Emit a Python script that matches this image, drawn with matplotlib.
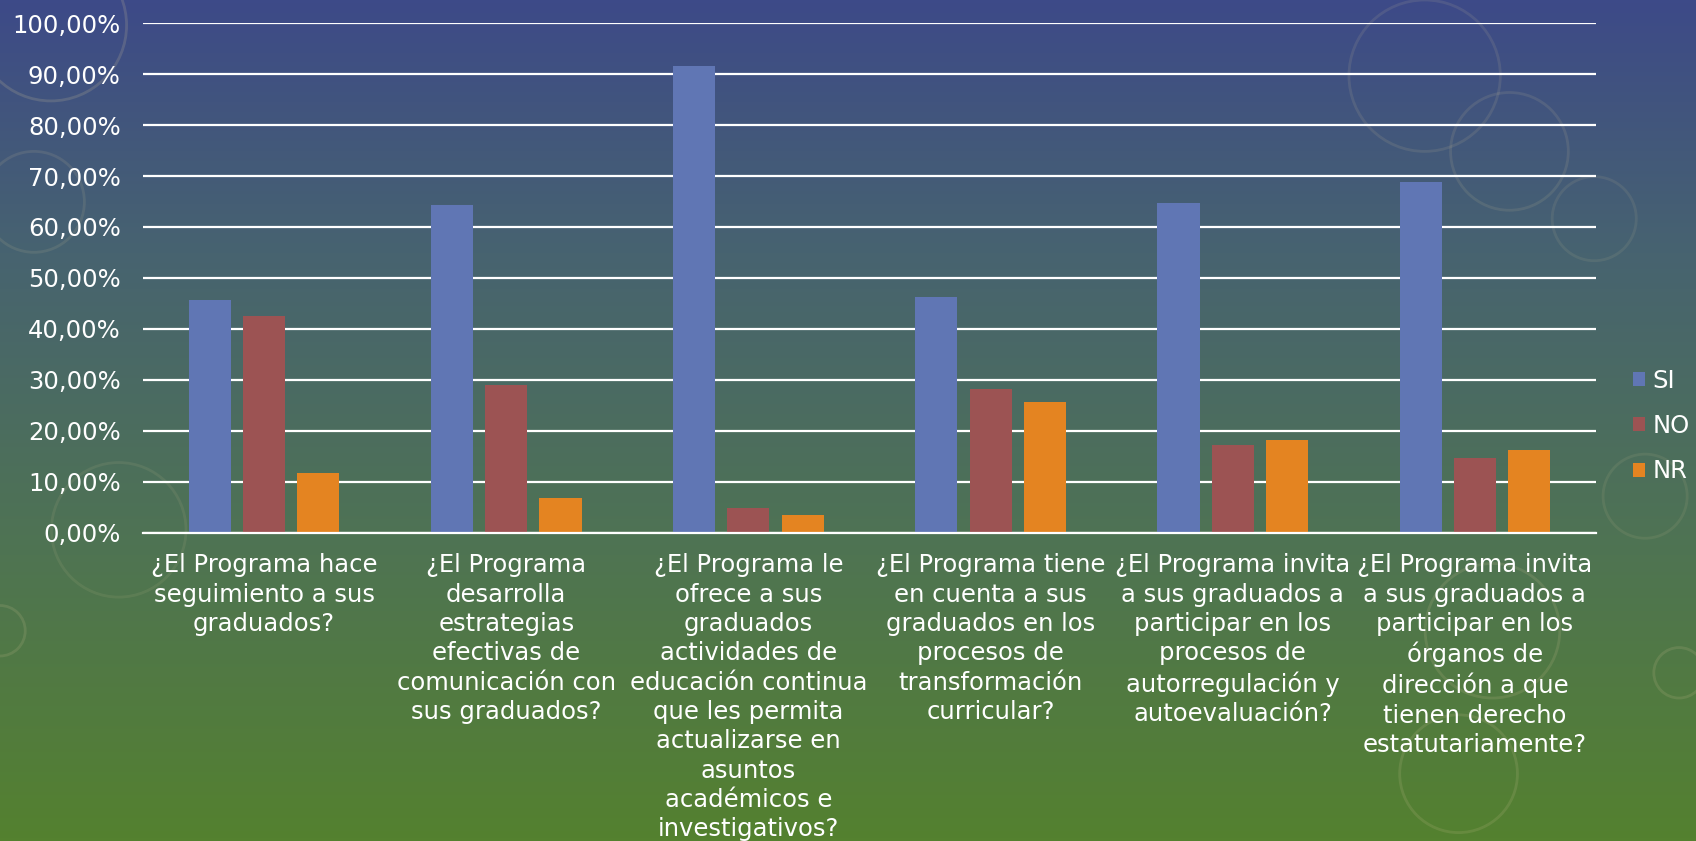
import numpy as np
import matplotlib.pyplot as plt
from matplotlib.colors import LinearSegmentedColormap
from matplotlib.patches import Ellipse
from matplotlib.ticker import FuncFormatter

# Data (percent)
categories = [
    "¿El Programa hace\nseguimiento a sus\ngraduados?",
    "¿El Programa\ndesarrolla\nestrategias\nefectivas de\ncomunicación con\nsus graduados?",
    "¿El Programa le\nofrece a sus\ngraduados\nactividades de\neducación continua\nque les permita\nactualizarse en\nasuntos\nacadémicos e\ninvestigativos?",
    "¿El Programa tiene\nen cuenta a sus\ngraduados en los\nprocesos de\ntransformación\ncurricular?",
    "¿El Programa invita\na sus graduados a\nparticipar en los\nprocesos de\nautorregulación y\nautoevaluación?",
    "¿El Programa invita\na sus graduados a\nparticipar en los\nórganos de\ndirección a que\ntienen derecho\nestatutariamente?",
]
si = [45.7, 64.3, 91.6, 46.2, 64.7, 68.9]
no = [42.5, 28.9, 4.9, 28.1, 17.2, 14.7]
nr = [11.7, 6.7, 3.4, 25.6, 18.1, 16.3]

series = [("SI", si, "#6076b4"), ("NO", no, "#9c5353"), ("NR", nr, "#e48421")]

plt.rcParams['font.family'] = ['DejaVu Sans']

fig = plt.figure(figsize=(16.96, 8.41), dpi=100)

# background gradient (blue top -> green bottom)
bg = fig.add_axes([0, 0, 1, 1], zorder=0)
cmap = LinearSegmentedColormap.from_list(
    "bg", [(0.0, "#3d4a88"), (0.3, "#476370"), (0.66, "#4f7452"), (1.0, "#54812f")])
grad = np.linspace(0, 1, 256).reshape(-1, 1)
bg.imshow(grad, cmap=cmap, aspect="auto", extent=[0, 1, 0, 1], origin="upper")
for (cx, cy, r, a) in [(0.03, 0.97, 0.09, 0.18), (0.02, 0.76, 0.06, 0.12), (0.07, 0.37, 0.08, 0.1),
                       (0.0, 0.25, 0.03, 0.15), (0.84, 0.91, 0.09, 0.12), (0.89, 0.82, 0.07, 0.12),
                       (0.94, 0.74, 0.05, 0.1), (0.88, 0.25, 0.08, 0.15), (0.86, 0.08, 0.07, 0.15),
                       (0.97, 0.41, 0.05, 0.1), (0.99, 0.2, 0.03, 0.15)]:
    bg.add_patch(Ellipse((cx, cy), 2 * r * 841 / 1696, 2 * r, fill=False,
                         ec="#d8c89a", lw=2, alpha=a))
bg.set_xlim(0, 1)
bg.set_ylim(0, 1)
bg.axis("off")

ax = fig.add_axes([143 / 1696, 1 - 532.5 / 841, (1596 - 143) / 1696, (532.5 - 23.3) / 841], zorder=1)
ax.patch.set_alpha(0)

x = np.arange(len(categories))
w = 0.174
step = 0.224
for i, (name, vals, col) in enumerate(series):
    ax.bar(x + (i - 1) * step, vals, width=w, color=col, label=name, zorder=2)

ax.set_xlim(-0.5, len(categories) - 0.5)
ax.set_ylim(0, 100)
ax.set_yticks(np.arange(0, 101, 10))
ax.yaxis.set_major_formatter(FuncFormatter(lambda v, p: f"{v:.2f}%".replace(".", ",")))
ax.grid(axis="y", color="white", lw=1.6, zorder=1)
ax.set_axisbelow(True)
for s in ["top", "right", "left"]:
    ax.spines[s].set_visible(False)
ax.spines["bottom"].set_color("white")
ax.spines["bottom"].set_linewidth(1.6)

ax.set_xticks(x)
ax.set_xticklabels(categories, linespacing=1.28)
ax.tick_params(axis="y", length=0, pad=16, labelsize=17.5, labelcolor="white")
ax.tick_params(axis="x", length=0, pad=15, labelsize=17.5, labelcolor="white")

fig.legend(loc="center left", bbox_to_anchor=(0.963, 0.4935), frameon=False,
           fontsize=17.5, labelcolor="white", handlelength=0.5, handleheight=0.5,
           handletextpad=0.3, labelspacing=0.88, borderpad=0, borderaxespad=0)

fig.savefig("out.png", dpi=100)
